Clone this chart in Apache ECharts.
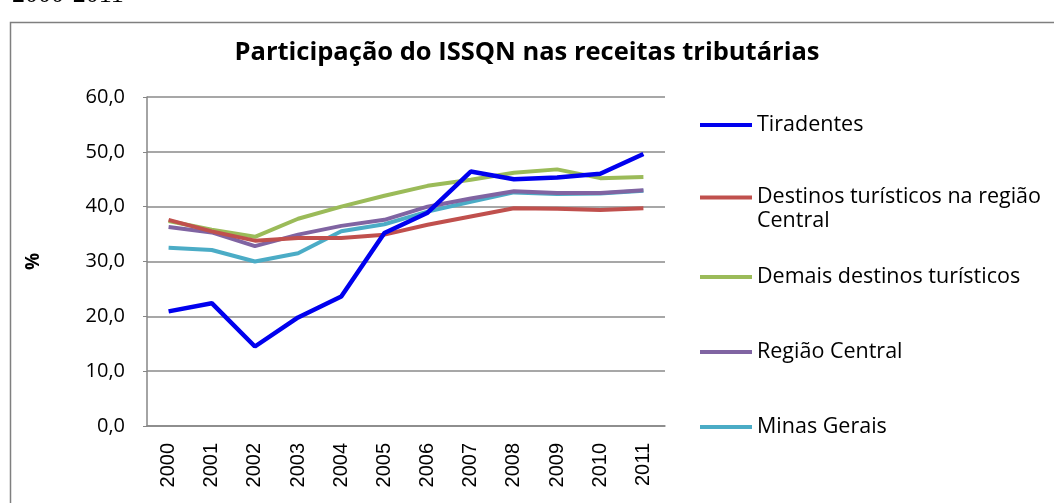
<!DOCTYPE html>
<html>
<head>
<meta charset="utf-8">
<script src="https://cdn.jsdelivr.net/npm/echarts@6/dist/echarts.min.js"></script>
<style>html,body{margin:0;padding:0;background:#fff;}#c{width:1054px;height:503px;}</style>
</head>
<body>
<div id="c"></div>
<script>
const years = ['2000','2001','2002','2003','2004','2005','2006','2007','2008','2009','2010','2011'];
const yTicks = [0, 10, 20, 30, 40, 50, 60];
const seriesNames = ['Tiradentes', 'Destinos turísticos na região Central', 'Demais destinos turísticos', 'Região Central', 'Minas Gerais'];
const tiradentes = [20.9, 22.4, 14.5, 19.8, 23.6, 35.2, 38.9, 46.4, 45.0, 45.3, 46.0, 49.6];
const destinosCentral = [37.6, 35.5, 33.8, 34.3, 34.3, 34.9, 36.7, 38.2, 39.7, 39.6, 39.4, 39.7];
const demaisDestinos = [37.4, 35.8, 34.5, 37.8, 40.0, 42.0, 43.8, 44.9, 46.2, 46.8, 45.2, 45.4];
const regiaoCentral = [36.3, 35.3, 32.8, 34.9, 36.5, 37.6, 40.0, 41.5, 42.8, 42.5, 42.5, 43.0];
const minasGerais = [32.5, 32.1, 30.0, 31.5, 35.5, 36.8, 39.1, 40.9, 42.6, 42.3, 42.4, 42.9];

const colors = ['#0000ee', '#c0504d', '#9bbb59', '#8064a2', '#4bacc6'];
const values = [tiradentes, destinosCentral, demaisDestinos, regiaoCentral, minasGerais];
const legendTops = [113, 185, 265, 340, 415];
const FONT = 'Open Sans';
const LH = 24;
// line icon drawn at the top of a taller box so it sits beside the first text line
const topLineIcon = 'path://M0,0L52,0L52,4L0,4Z M0,27L0.1,27L0.1,27.1Z';

const chart = echarts.init(document.getElementById('c'), null, {renderer: 'canvas'});
const option = {
  backgroundColor: '#fff',
  animation: false,
  title: {
    text: 'Participação do ISSQN nas receitas tributárias',
    left: 'center',
    top: 35,
    textStyle: {fontFamily: FONT, fontWeight: 'bold', fontSize: 25.5, color: '#000'}
  },
  graphic: [
    {type: 'rect', shape: {x: 10.5, y: 22.5, width: 1100, height: 600}, style: {fill: 'none', stroke: '#7f7f7f', lineWidth: 1.5}, silent: true},
    {type: 'text', left: 12, top: -18, style: {text: '2000-2011', font: '26px "Liberation Serif"', fill: '#000'}}
  ],
  legend: seriesNames.map((n, i) => ({
    data: [n],
    left: 700,
    top: legendTops[i],
    orient: 'vertical',
    icon: i === 1 ? topLineIcon : 'rect',
    itemWidth: 52,
    itemHeight: i === 1 ? 27.1 : 4,
    itemGap: 0,
    padding: 0,
    selectedMode: false,
    formatter: name => name === 'Destinos turísticos na região Central' ? 'Destinos turísticos na região\nCentral' : name,
    textStyle: {fontFamily: FONT, fontSize: 21.5, color: '#000', lineHeight: LH}
  })),
  grid: {left: 147, right: 389, top: 97, bottom: 77},
  xAxis: {
    type: 'category',
    data: years,
    boundaryGap: true,
    axisLine: {lineStyle: {color: '#868686', width: 1.5}},
    axisTick: {show: false},
    axisLabel: {rotate: 90, fontFamily: 'Liberation Sans', fontSize: 20, color: '#000', margin: 17}
  },
  yAxis: {
    type: 'value',
    min: yTicks[0],
    max: yTicks[yTicks.length - 1],
    interval: 10,
    name: '%',
    nameLocation: 'middle',
    nameRotate: 90,
    nameGap: 104,
    nameTextStyle: {fontFamily: FONT, fontWeight: 'bold', fontSize: 19, color: '#000'},
    axisLine: {show: true, lineStyle: {color: '#868686', width: 1.5}},
    axisTick: {show: true, length: 4, lineStyle: {color: '#868686'}},
    splitLine: {lineStyle: {color: '#8a8a8a', width: 1.5}},
    axisLabel: {fontFamily: FONT, fontSize: 20, color: '#000', margin: 22, formatter: v => v.toFixed(1).replace('.', ',')}
  },
  series: seriesNames.map((n, i) => ({
    name: n,
    type: 'line',
    data: values[i],
    symbol: 'none',
    lineStyle: {color: colors[i], width: i === 0 ? 4.5 : 4},
    itemStyle: {color: colors[i]},
    z: 10 - i
  }))
};
chart.setOption(option);
</script>
</body>
</html>
